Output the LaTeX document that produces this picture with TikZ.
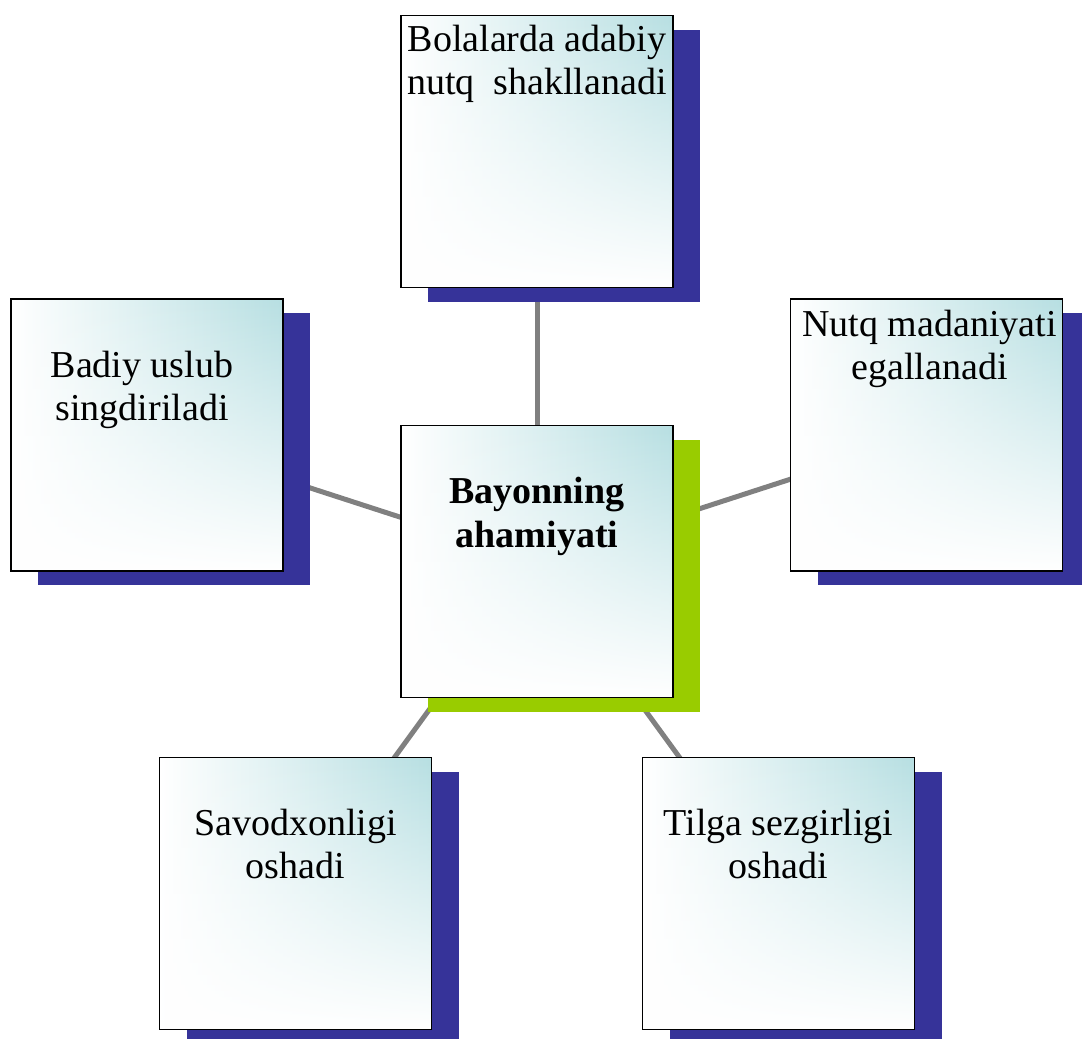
\documentclass[tikz,border=0pt]{standalone}
\usepackage{fontspec}
\setmainfont{Liberation Serif}
\usetikzlibrary{positioning,shadows,fadings,backgrounds}
\definecolor{boxteal}{RGB}{183,223,226}
\definecolor{shadowblue}{RGB}{54,51,153}
\definecolor{shadowgreen}{RGB}{153,204,0}
\definecolor{linkgray}{RGB}{128,128,128}
\tikzfading[name=boxfade, top color=transparent!100, middle color=transparent!55, bottom color=transparent!0]
\tikzset{
  card/.style={draw=black, line width=1.8pt, fill=white,
    minimum width=272pt, minimum height=272pt, inner sep=0pt,
    drop shadow={shadow xshift=27pt, shadow yshift=-14pt, fill=#1, opacity=1},
    path picture={
      \shade[left color=white, right color=boxteal]
        (path picture bounding box.south west) rectangle (path picture bounding box.north east);
      \fill[white, path fading=boxfade]
        (path picture bounding box.south west) rectangle (path picture bounding box.north east);
    }},
  card/.default=shadowblue,
  cardtext/.style={align=center, inner sep=0pt, font=\fontsize{38}{43}\selectfont},
  link/.style={draw=linkgray, line width=5pt}
}
\begin{document}
\begin{tikzpicture}[x=1pt, y=-1pt]
  \useasboundingbox (0,0) rectangle (1082,1039);
  % boxes
  \node[card] (t) at (537,151.5) {};
  \node[card] (l) at (147,435) {};
  \node[card] (r) at (926.5,435) {};
  \node[card=shadowgreen] (c) at (537,561.5) {};
  \node[card] (bl) at (295.5,893.5) {};
  \node[card] (br) at (778.5,893.5) {};
  % texts
  \node[cardtext, below=10pt of t.north] (tt) {Bolalarda adabiy\\nutq\ \ shakllanadi};
  \node[cardtext, below=53pt of l.north, xshift=-5pt] (lt) {Badiy uslub\\singdiriladi};
  \node[cardtext, below=12pt of r.north, xshift=3pt] (rt) {Nutq madaniyati\\egallanadi};
  \node[cardtext, font=\fontsize{38}{44}\selectfont\bfseries, below=52pt of c.north] (ct) {Bayonning\\ahamiyati};
  \node[cardtext, below=52pt of bl.north] (blt) {Savodxonligi\\oshadi};
  \node[cardtext, below=52pt of br.north] (brt) {Tilga sezgirligi\\oshadi};
  % connectors
  \begin{scope}[on background layer]
    \foreach \n in {t,l,r,bl,br}
      \draw[link] (c.center) -- (\n.center);
  \end{scope}
\end{tikzpicture}
\end{document}
